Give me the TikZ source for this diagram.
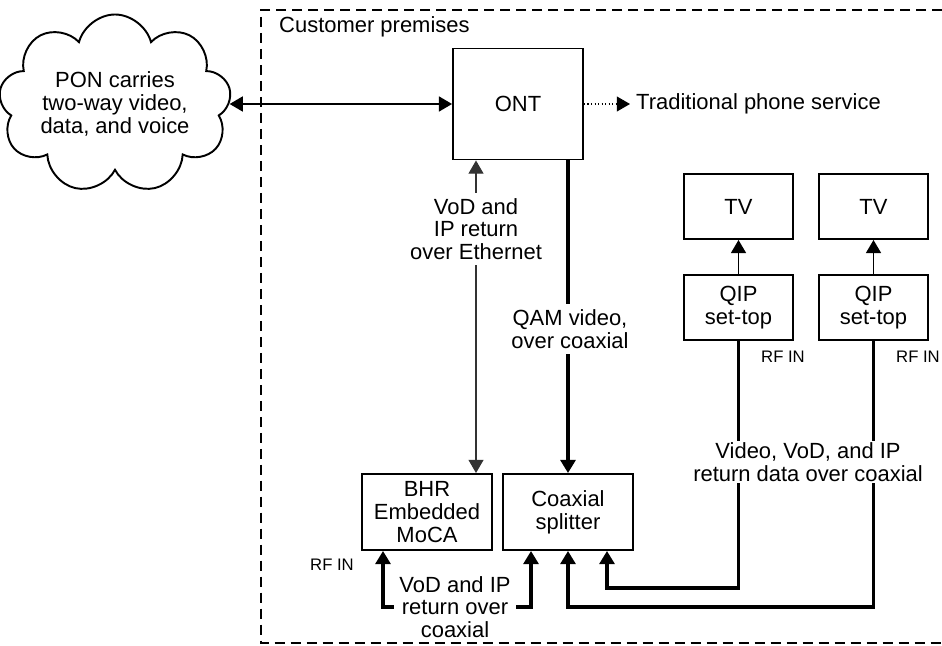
\documentclass[tikz,border=0pt]{standalone}
\usepackage{fontspec}
\setmainfont{Liberation Sans}
\usetikzlibrary{arrows.meta,shapes.symbols}
\tikzset{
  box/.style={draw,line width=1.1pt,align=center,inner sep=0pt},
  tip/.style={-{Triangle[length=7.5pt,width=8.5pt]}},
  tips/.style={{Triangle[length=7.5pt,width=8.5pt]}-{Triangle[length=7.5pt,width=8.5pt]}},
  coax/.style={line width=1.9pt},
  lbl/.style={fill=white,align=center,inner xsep=3pt,inner ysep=3pt},
  small/.style={font=\fontsize{9.5}{11}\selectfont}
}
\begin{document}
\begin{tikzpicture}[x=0.02cm,y=-0.02cm,font=\fontsize{12.5}{13}\selectfont]
  \useasboundingbox (0,0) rectangle (942,645);
  % cloud and ONT
  \node[draw,cloud,cloud puffs=9,aspect=1.6,line width=1.1pt,minimum width=4.0cm,minimum height=2.3cm,align=center,inner sep=0pt] (pon) at (115,104) {PON carries\\two-way video,\\data, and voice};
  \node[box,minimum width=2.6cm,minimum height=2.22cm] (ont) at (518,104) {ONT};
  \node[anchor=west] (phone) at (630,104) {Traditional phone service};
  \draw[tips,line width=1.1pt] (pon) -- (ont);
  \draw[tip,line width=0.6pt,dash pattern=on 0.7pt off 1.3pt] (ont) -- (phone);
  % set-tops and TVs
  \node[box,minimum width=2.18cm,minimum height=1.3cm] (tv1) at (738.5,206.5) {TV};
  \node[box,minimum width=2.18cm,minimum height=1.3cm] (tv2) at (873.5,206.5) {TV};
  \node[box,minimum width=2.18cm,minimum height=1.3cm] (qip1) at (738.5,307.5) {QIP\\set-top};
  \node[box,minimum width=2.18cm,minimum height=1.3cm] (qip2) at (873.5,307.5) {QIP\\set-top};
  \draw[tip,line width=1.1pt] (qip1) -- (tv1);
  \draw[tip,line width=1.1pt] (qip2) -- (tv2);
  \node[small,anchor=west] (rf1) at (755,357) {RF IN};
  \node[small,anchor=west] (rf2) at (890,357) {RF IN};
  % home network boxes
  \node[box,minimum width=2.6cm,minimum height=1.52cm] (bhr) at (427,512) {BHR\\Embedded\\MoCA};
  \node[box,minimum width=2.6cm,minimum height=1.52cm] (split) at (568,512) {Coaxial\\splitter};
  \node[small,anchor=east] (rf3) at (360,565) {RF IN};
  \coordinate (eth) at (476,0);
  \draw[tips,line width=0.7pt,black!80] (ont.south -| eth) -- (bhr.north -| eth);
  \draw[tip,coax] (ont.south -| split.north) -- (split.north);
  \draw[tip,coax] (qip1.south) -- ++(0,247) -| ([xshift=0.78cm]split.south);
  \draw[tip,coax] (qip2.south) -- ++(0,266) -| (split.south);
  \draw[tips,coax] ([xshift=-0.88cm]bhr.south) -- ++(0,56) -| ([xshift=-0.74cm]split.south);
  % labels on the lines
  \node[lbl] (ethlbl) at (476,229) {VoD and\\IP return\\over Ethernet};
  \node[lbl] (qamlbl) at (570,329) {QAM video,\\over coaxial};
  \node[lbl,inner ysep=1pt] (vidlbl) at (808,462) {Video, VoD, and IP\\return data over coaxial};
  \node[lbl,inner ysep=0pt] (vodlbl) at (455,607) {VoD and IP\\return over\\coaxial};
  % customer premises
  \draw[line width=1.1pt,dash pattern=on 0.2cm off 0.12cm] (942,10) -| (261,643) -- (942,643);
  \node[anchor=west] (cp) at (273,27) {Customer premises};
\end{tikzpicture}
\end{document}
